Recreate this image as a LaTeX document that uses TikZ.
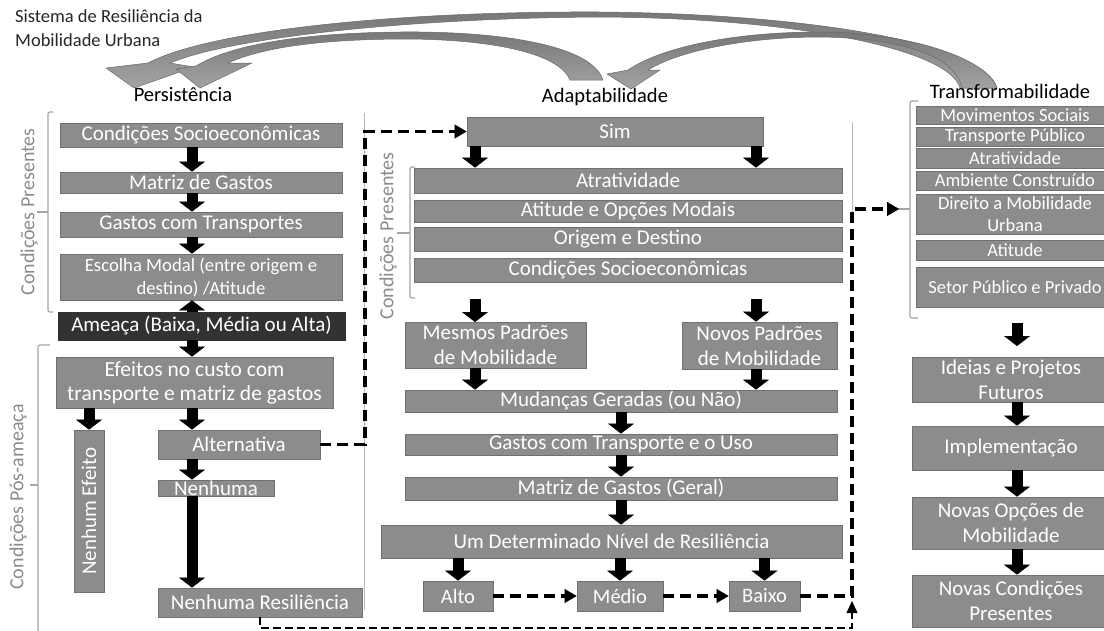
\documentclass[tikz,border=0pt]{standalone}
\usepackage{fontspec}
\setmainfont{Carlito}
\usetikzlibrary{arrows.meta}
\definecolor{boxfill}{RGB}{140,140,140}
\definecolor{boxline}{RGB}{112,112,112}
\definecolor{darkbox}{RGB}{50,50,50}
\definecolor{brk}{RGB}{165,165,165}
\definecolor{lbl}{RGB}{140,140,140}
\definecolor{arcfill}{RGB}{140,140,140}
\definecolor{arcline}{RGB}{105,105,105}
\begin{document}
\begin{tikzpicture}[x=1pt,y=-1pt,
  box/.style={draw=boxline, fill=boxfill, text=white, inner sep=0pt, line width=0.8pt, align=center, font=\fontsize{21}{24}\selectfont},
  rbox/.style={box, font=\fontsize{18.5}{21}\selectfont},
  bbox/.style={box, font=\fontsize{21}{25}\selectfont},
  blk/.style={line width=11pt, black, -{Triangle[width=26pt,length=10pt,line width=0.4pt]}},
  dsh/.style={line width=3.8pt, black, dash pattern=on 11pt off 6pt},
  dtip/.style={-{Triangle[width=14pt,length=12pt,line width=0.4pt]}},
  thindsh/.style={line width=2pt, black, dash pattern=on 8pt off 4pt, -{Triangle[width=11pt,length=12pt,line width=0.4pt]}},
  brack/.style={draw=brk, line width=1.2pt, rounded corners=2pt},
  sep/.style={draw=brk!80, line width=0.9pt},
  vlabel/.style={rotate=90, text=lbl, font=\fontsize{20}{22}\selectfont},
  head/.style={font=\fontsize{20.5}{22}\selectfont},
  arc/.style={top color=arcfill!85!black, bottom color=arcfill!80, draw=arcline, line width=0.5pt}
]
\clip (0,0) rectangle (1104,630);
\fill[white] (0,0) rectangle (1104,630);

% ---- curved block arrows at top ----
% Transformabilidade -> Persistencia
\path[arc] (997,88) .. controls (985,45) and (820,14) .. (600,12)
  .. controls (400,11) and (210,30) .. (148,63)
  -- (106,68) -- (134,88) -- (194,67) -- (170,63)
  .. controls (235,36) and (420,18) .. (600,17)
  .. controls (800,18) and (950,50) .. (960,88) -- cycle;
% Transformabilidade -> Adaptabilidade
\path[arc] (997,88) .. controls (985,55) and (900,32) .. (820,32)
  .. controls (730,32) and (660,48) .. (628,70)
  -- (607,74) -- (631,89) -- (660,70) -- (648,70)
  .. controls (680,50) and (750,37) .. (820,37)
  .. controls (900,38) and (955,55) .. (962,88) -- cycle;
% Adaptabilidade -> Persistencia
\path[arc] (603,80) .. controls (592,45) and (500,31) .. (400,32)
  .. controls (300,33) and (230,45) .. (196,66)
  -- (176,69) -- (200,88) -- (252,63) -- (228,63)
  .. controls (270,44) and (340,39) .. (410,39)
  .. controls (500,40) and (560,55) .. (570,80) -- cycle;

% ---- titles ----
\node[anchor=north west, align=left, font=\fontsize{18.5}{24}\selectfont, text=black!85, inner sep=0pt] (title) at (15,9) {Sistema de Resiliência da\\Mobilidade Urbana};
\node[head] (hp) at (183,95) {Persistência};
\node[head] (ha) at (605,97) {Adaptabilidade};
\node[head] (ht) at (1010,91) {Transformabilidade};

% ---- separators ----
\draw[sep] (364,113) -- (364,610);
\draw[sep] (852,122) -- (852,215);

% ---- brackets and labels ----
\draw[brack] (53,112) -- (48,112) -- (48,312) -- (53,312);
\draw[brack] (48,212) -- (37,212);
\node[vlabel] (lcp) at (29,212) {Condições Presentes};
\draw[brack] (50,345) -- (38,345) -- (38,640);
\draw[brack] (38,485) -- (30,485);
\node[vlabel] (lpa) at (18,497) {Condições Pós-ameaça};
\draw[brack] (415,167) -- (410,167) -- (410,298) -- (415,298);
\draw[brack] (410,233) -- (397,233);
\node[vlabel] (mcp) at (388,236) {Condições Presentes};
\draw[brack] (918,101) -- (910,101) -- (910,318) -- (918,318);
\draw[brack] (910,209) -- (898,209);

% ---- left column ----
\node[box, minimum width=282pt, minimum height=24pt] (cs1) at (201,135) {Condições Socioeconômicas};
\node[box, minimum width=282pt, minimum height=21pt] (mg1) at (201,182.5) {Matriz de Gastos};
\node[box, minimum width=282pt, minimum height=25pt] (gt1) at (201,224.5) {Gastos com Transportes};
\node[box, minimum width=282pt, minimum height=46pt, font=\fontsize{18.7}{23}\selectfont] (em) at (201,277) {Escolha Modal (entre origem e\\destino) /Atitude};
\node[box, fill=darkbox, draw=darkbox, minimum width=287pt, minimum height=28pt] (am) at (201.5,326) {Ameaça (Baixa, Média ou Alta)};
\node[box, minimum width=277pt, minimum height=51pt, font=\fontsize{21.5}{24}\selectfont] (ef) at (194.5,382.5) {Efeitos no custo com\\transporte e matriz de gastos};
\node[box, minimum width=30pt, minimum height=162pt] (ne) at (89,511) {};
\node[rotate=90, text=white, font=\fontsize{21}{24}\selectfont] (net) at (ne.center) {Nenhum Efeito};
\node[box, minimum width=162pt, minimum height=29pt] (alt) at (239,444.5) {Alternativa};
\node[box, minimum width=116pt, minimum height=16pt] (nen) at (216,488) {Nenhuma};
\node[box, minimum width=204pt, minimum height=29pt] (nres) at (260,602.5) {Nenhuma Resiliência};

% ---- middle column ----
\node[box, minimum width=296pt, minimum height=29pt] (sim) at (615,131.5) {Sim};
\node[box, minimum width=428pt, minimum height=25pt] (atr) at (628,180.5) {Atratividade};
\node[box, minimum width=428pt, minimum height=22pt] (ati) at (628,211) {Atitude e Opções Modais};
\node[box, minimum width=428pt, minimum height=24pt] (ori) at (628,239) {Origem e Destino};
\node[box, minimum width=428pt, minimum height=24pt] (cs2) at (628,270) {Condições Socioeconômicas};
\node[bbox, minimum width=181pt, minimum height=46pt] (mes) at (495.5,345) {Mesmos Padrões\\de Mobilidade};
\node[bbox, minimum width=155pt, minimum height=47pt] (nov) at (759.5,345.5) {Novos Padrões\\de Mobilidade};
\node[box, minimum width=432pt, minimum height=22pt] (mud) at (621,401) {Mudanças Geradas (ou Não)};
\node[box, minimum width=432pt, minimum height=21pt] (gtu) at (621,444.5) {Gastos com Transporte e o Uso};
\node[box, minimum width=432pt, minimum height=23pt] (mgg) at (621,488.5) {Matriz de Gastos (Geral)};
\node[box, minimum width=461pt, minimum height=33pt] (udn) at (611.5,541.5) {Um Determinado Nível de Resiliência};
\node[box, minimum width=70pt, minimum height=30pt, font=\fontsize{20.5}{22}\selectfont] (alto) at (458,596) {Alto};
\node[box, minimum width=86pt, minimum height=30pt, font=\fontsize{20.5}{22}\selectfont] (med) at (620,596) {Médio};
\node[box, minimum width=71pt, minimum height=30pt, font=\fontsize{20.5}{22}\selectfont] (bai) at (764.5,596) {Baixo};

% ---- right column ----
\node[rbox, minimum width=198pt, minimum height=18pt] (ms) at (1015,115) {Movimentos Sociais};
\node[rbox, minimum width=198pt, minimum height=19pt] (tp) at (1015,136.5) {Transporte Público};
\node[rbox, minimum width=198pt, minimum height=20pt] (ra) at (1015,158) {Atratividade};
\node[rbox, minimum width=198pt, minimum height=19pt] (amb) at (1015,180.5) {Ambiente Construído};
\node[rbox, minimum width=198pt, minimum height=40pt, font=\fontsize{18.5}{22}\selectfont] (dir) at (1015,214) {Direito a Mobilidade\\Urbana};
\node[rbox, minimum width=198pt, minimum height=20pt] (atd) at (1015,250) {Atitude};
\node[rbox, minimum width=198pt, minimum height=40pt] (set) at (1015,287) {Setor Público e Privado};
\node[bbox, minimum width=198pt, minimum height=45pt] (ide) at (1011,379.5) {Ideias e Projetos\\Futuros};
\node[bbox, minimum width=198pt, minimum height=44pt] (imp) at (1011,448) {Implementação};
\node[bbox, minimum width=198pt, minimum height=52pt] (nop) at (1011,523) {Novas Opções de\\Mobilidade};
\node[bbox, minimum width=198pt, minimum height=52pt] (ncp) at (1011,601) {Novas Condições\\Presentes};

% ---- helper coordinates ----
\coordinate (xL) at (192,0);
\coordinate (xN) at (89,0);
\coordinate (xA) at (475,0);
\coordinate (xB) at (756,0);
\coordinate (xC) at (621,0);
\coordinate (xR) at (1017,0);
\coordinate (xD) at (365,0);
\coordinate (xE) at (852,0);
\coordinate (a1s) at (475,299);
\coordinate (a2s) at (756,299);
\coordinate (a1e) at (475,322);
\coordinate (r1s) at (1017,323);
\coordinate (r1e) at (1017,346);
\coordinate (tbr) at (899,209);
\coordinate (upt) at (852,601);
\coordinate (bl) at (0,628);

% ---- block arrows ----
\draw[blk] (cs1.south -| xL) -- (mg1.north -| xL);
\draw[blk] (mg1.south -| xL) -- (gt1.north -| xL);
\draw[blk] (gt1.south -| xL) -- (em.north -| xL);
\draw[blk] (am.north -| xL) -- (em.south -| xL);
\draw[blk] (am.south -| xL) -- (ef.north -| xL);
\draw[blk] (ef.south -| xN) -- (ne.north -| xN);
\draw[blk] (ef.south -| xL) -- (alt.north -| xL);
\draw[blk] (alt.south -| xL) -- (nen.north -| xL);
\draw[blk] (nen.south -| xL) -- (nres.north -| xL);

\draw[blk] (sim.south -| xA) -- (atr.north -| xA);
\draw[blk] (sim.south -| xB) -- (atr.north -| xB);
\draw[blk] (a1s) -- (a1e);
\draw[blk] (a2s) -- (nov.north -| a2s);
\draw[blk] (mes.south -| xA) -- (mud.north -| xA);
\draw[blk] (nov.south -| xB) -- (mud.north -| xB);
\draw[blk] (mud.south -| xC) -- (gtu.north -| xC);
\draw[blk] (gtu.south -| xC) -- (mgg.north -| xC);
\draw[blk] (mgg.south -| xC) -- (udn.north -| xC);
\draw[blk] (udn.south -| alto) -- (alto.north);
\draw[blk] (udn.south -| med) -- (med.north);
\draw[blk] (udn.south -| bai) -- (bai.north);

\draw[blk] (r1s) -- (r1e);
\draw[blk] (ide.south -| xR) -- (imp.north -| xR);
\draw[blk] (imp.south -| xR) -- (nop.north -| xR);
\draw[blk] (nop.south -| xR) -- (ncp.north -| xR);

% ---- dashed connectors ----
\draw[dsh, dtip] (alt.east) -- (alt.east -| xD) |- (sim.west);
\draw[dsh, dtip] (alto.east) -- (med.west);
\draw[dsh, dtip] (med.east) -- (bai.west);
\draw[dsh, dtip] (bai.east) -- (bai.east -| xE) |- (tbr);
\draw[thindsh] (nres.south) -- (nres.south |- bl) -| (upt);
\end{tikzpicture}
\end{document}
